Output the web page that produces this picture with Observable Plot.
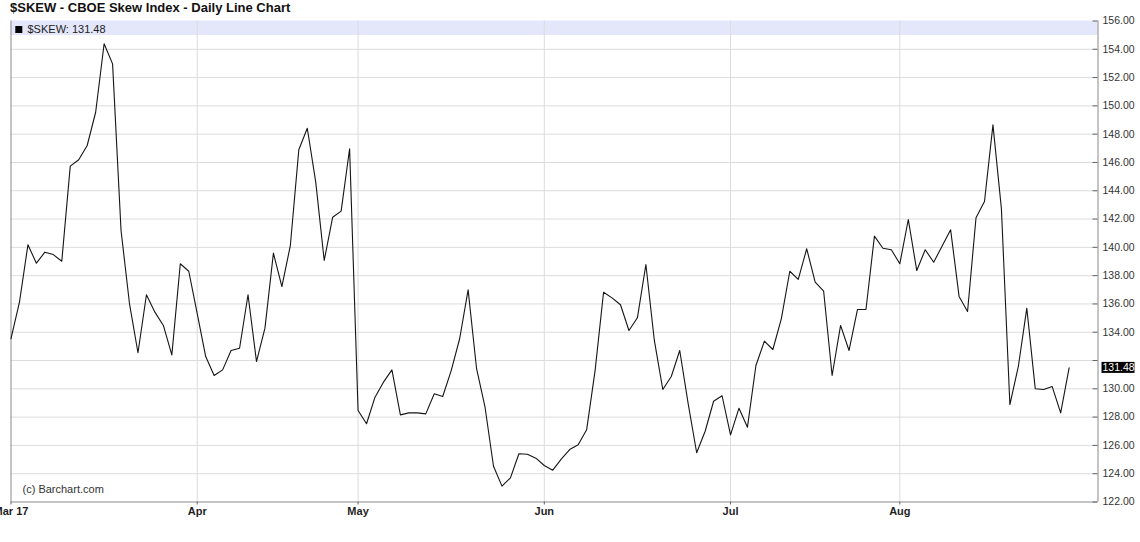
<!DOCTYPE html>
<html>
<head>
<meta charset="utf-8">
<script src="https://cdn.jsdelivr.net/npm/d3@7"></script>
<script src="https://cdn.jsdelivr.net/npm/@observablehq/plot@0.6"></script>
<style>
  html, body { margin: 0; padding: 0; background: #fff; }
  body { width: 1140px; height: 542px; overflow: hidden; position: relative; font-family: "Liberation Sans", Arial, sans-serif; }
  #title { position: absolute; left: 10px; top: 0; height: 19px; font-size: 13px; font-weight: bold; line-height: 16px; color: #111; white-space: nowrap; z-index: 2; }
  #chart svg { display: block; }
</style>
</head>
<body>
<div id="title"></div>
<div id="chart"></div>
<script>
// ---- data ----
const symbol = "$SKEW";
const chartTitle = "$SKEW - CBOE Skew Index - Daily Line Chart";
const credit = "(c) Barchart.com";
const skew = [
  133.54, 136.12, 140.18, 138.88, 139.66, 139.49, 139.02, 145.74, 146.19, 147.20,
  149.55, 154.39, 152.97, 141.19, 136.01, 132.55, 136.65, 135.42, 134.48, 132.40,
  138.84, 138.31, 135.32, 132.28, 130.94, 131.34, 132.71, 132.87, 136.65, 131.93,
  134.29, 139.59, 137.23, 140.13, 146.90, 148.42, 144.61, 139.07, 142.13, 142.56,
  146.97, 128.47, 127.53, 129.41, 130.47, 131.34, 128.16, 128.30, 128.30, 128.23,
  129.65, 129.46, 131.29, 133.54, 137.00, 131.42, 128.70, 124.53, 123.12, 123.71,
  125.41, 125.38, 125.10, 124.58, 124.25, 125.03, 125.71, 126.04, 127.10, 131.29,
  136.83, 136.43, 135.94, 134.12, 135.02, 138.79, 133.42, 129.95, 130.87, 132.71,
  128.94, 125.48, 127.00, 129.12, 129.51, 126.74, 128.63, 127.29, 131.65, 133.37,
  132.78, 134.95, 138.31, 137.73, 139.90, 137.54, 136.90, 130.94, 134.48, 132.71,
  135.61, 135.61, 140.79, 139.94, 139.83, 138.84, 141.97, 138.36, 139.83, 138.95,
  140.10, 141.24, 136.53, 135.47, 142.09, 143.24, 148.66, 142.73, 128.89, 131.58,
  135.70, 130.00, 129.95, 130.16, 128.30, 131.48
];
const monthLabels = ["Mar 17", "Apr", "May", "Jun", "Jul", "Aug"];
const monthIndex  = [0, 22, 41, 63, 85, 105];
const yTicks = [122, 124, 126, 128, 130, 132, 134, 136, 138, 140, 142, 144, 146, 148, 150, 152, 154, 156];
const xEnd = 128.41;   // right edge of the plot, in trading-day units

// ---- build ----
const data = skew.map((v, i) => ({i, v}));
const last = skew[skew.length - 1];
const months = monthLabels.map((label, k) => ({label, i: monthIndex[k]}));
const yMin = yTicks[0], yMax = yTicks[yTicks.length - 1];
const gridY = yTicks.filter(t => t !== yMin && t !== yMax);
const labelY = yTicks.filter(t => Math.abs(t - last) > 1);

document.getElementById("title").textContent = chartTitle;

const font = '"Liberation Sans", Arial, sans-serif';
const chart = Plot.plot({
  width: 1140,
  height: 542,
  marginTop: 20.5,
  marginBottom: 40.5,
  marginLeft: 10.5,
  marginRight: 42.5,
  x: {domain: [0, xEnd], axis: null},
  y: {domain: [yMin, yMax], axis: null},
  style: {fontFamily: font, background: "#fff", overflow: "hidden"},
  marks: [
    // legend band
    Plot.rect([last], {x1: 0, x2: xEnd, y1: yMax, y2: yMax, insetBottom: -14.5, fill: "#e4e6fa"}),
    // gridlines
    Plot.ruleY(gridY, {stroke: "#dcdcdc", strokeWidth: 1}),
    Plot.ruleX(months.filter(m => m.i > 0), {x: "i", stroke: "#dcdcdc", strokeWidth: 1}),
    // frame lines
    Plot.ruleX([0], {stroke: "#8a8a8a", strokeWidth: 1}),
    Plot.ruleX([xEnd], {stroke: "#8a8a8a", strokeWidth: 1}),
    Plot.ruleY([yMin], {x1: 0, x2: xEnd, stroke: "#8a8a8a", strokeWidth: 1}),
    // right axis ticks & labels
    Plot.ruleY(yTicks, {y: d => d, x1: xEnd, x2: xEnd, insetLeft: -5, stroke: "#666", strokeWidth: 1}),
    Plot.text(labelY, {x: xEnd, y: d => d, text: d => d.toFixed(2), textAnchor: "start", dx: 4.5, fontSize: 10.5, fill: "#333"}),
    // bottom axis ticks & labels
    Plot.ruleX(months, {x: "i", y1: yMin, y2: yMin, insetBottom: -3, stroke: "#666", strokeWidth: 1}),
    Plot.text(months, {x: "i", y: yMin, text: "label", dy: 9.5, fontSize: 11, fontWeight: "bold", fill: "#1f1f1f"}),
    // the series
    Plot.line(data, {x: "i", y: "v", stroke: "#151515", strokeWidth: 1.1}),
    // legend
    Plot.rect([last], {x1: 0, x2: 0, y1: yMax, y2: yMax, insetLeft: 4.8, insetRight: -11.8, insetTop: 5.5, insetBottom: -12.5, fill: "#000"}),
    Plot.text([last], {x: 0, y: yMax, text: d => `${symbol}: ${d.toFixed(2)}`, textAnchor: "start", dx: 16.5, dy: 8, fontSize: 11, fill: "#222"}),
    // credit
    Plot.text([credit], {x: 0, y: yMin, text: d => d, textAnchor: "start", dx: 11.5, dy: -13, fontSize: 11, fill: "#333"}),
    // current value marker on the axis
    Plot.rect([last], {x1: xEnd, x2: xEnd, y1: d => d, y2: d => d, insetLeft: 4, insetRight: -37, insetTop: -5.5, insetBottom: -5.5, fill: "#000"}),
    Plot.text([last], {x: xEnd, y: d => d, text: d => d.toFixed(2), textAnchor: "start", dx: 4.5, fontSize: 10.5, fill: "#fff"})
  ]
});
document.getElementById("chart").appendChild(chart);
</script>
</body>
</html>
